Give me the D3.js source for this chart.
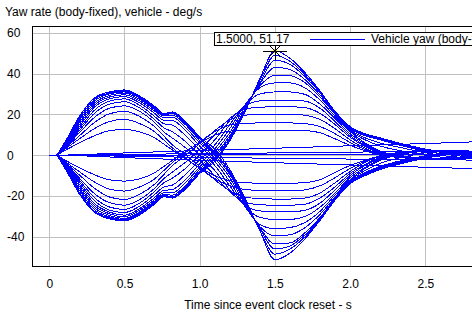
<!DOCTYPE html>
<html>
<head>
<meta charset="utf-8">
<script src="https://cdn.jsdelivr.net/npm/d3@7/dist/d3.min.js"></script>
<style>
	html, body { margin:0; padding:0; background:#fff; }
	svg { display:block; }
	text { font-family:"Liberation Sans", Arial, sans-serif; font-size:12px; fill:#000; }
</style>
</head>
<body>
<svg id="chart" width="472" height="317"></svg>
<script>
// 時間軸 (s)
var time_s = [0, 0.04, 0.1, 0.2, 0.3, 0.4, 0.5, 0.6, 0.7, 0.76, 0.82, 0.9, 1.0, 1.1, 1.2, 1.3, 1.4, 1.5, 1.6, 1.7, 1.8, 1.9, 2.0, 2.1, 2.2, 2.35, 2.5, 2.65, 2.8, 3.0];

// 先向左轉 (第一峰為正)
var yaw_pos_1  = [0, 0, 2.2, 6, 9.5, 12, 12.6, 11.5, 8.5, 5.5, 2.5, -1.5, -6, -10, -12.5, -13.5, -13.7, -13.7, -13.7, -13.5, -12, -8.5, -5, -2.5, -0.3, 1.2, 1.8, 2, 1.8, 1];
var yaw_pos_2  = [0, 0, 2.8, 8, 13, 16.5, 17.6, 15.5, 11.5, 7.5, 3.5, -1, -6.5, -11.5, -15, -16.8, -17.3, -17.5, -17.5, -17, -15, -11, -6.5, -3, -0.3, 1.5, 2, 2.2, 2, 1];
var yaw_pos_3  = [0, 0, 3.2, 9.5, 16, 20.3, 21.5, 19, 14, 9.5, 5, 0.5, -5.5, -12, -17.5, -20.5, -21.3, -21.5, -21.5, -21, -18.5, -13.5, -8, -3.5, -0.5, 1.5, 2.2, 2.3, 2, 1];
var yaw_pos_4  = [0, 0, 3.5, 11, 18.5, 23, 24.2, 21.5, 16, 11.5, 8.3, 4, -2.5, -10, -18, -23, -24.3, -24.5, -24.5, -24, -21, -15.5, -9, -4.5, -1, 1.3, 2.2, 2.4, 2, 1];
var yaw_pos_5  = [0, 0, 3.8, 12, 20.5, 25, 26.2, 23.2, 17.5, 13.5, 11.4, 7, 0, -7.5, -17, -24.5, -27.3, -27.8, -27.8, -27, -23.5, -17, -10, -5, -1.5, 1.2, 2.2, 2.5, 2, 1];
var yaw_pos_6  = [0, 0, 4, 13, 22, 26.5, 27.6, 24.5, 19, 15.5, 14.7, 10, 2.5, -5, -15, -25, -30.5, -31.5, -31.5, -30, -25.5, -18.5, -11, -6, -2, 1, 2.2, 2.5, 2, 1];
var yaw_pos_7  = [0, 0, 4.2, 14, 23.5, 27.6, 28.7, 25.7, 20.5, 17.2, 17, 12.5, 4.5, -3, -13, -25, -34, -36, -35.5, -33, -27.5, -19.5, -12, -6.5, -2.5, 0.5, 2, 2.5, 2, 1];
var yaw_pos_8  = [0, 0, 4.5, 15, 24.5, 28.5, 29.6, 26.6, 21.6, 18.4, 18.5, 14, 6, -1.5, -11, -24, -35, -39.5, -39, -35.5, -29, -20.5, -12.5, -7.5, -4, -1, 1.2, 2, 1.8, 1];
var yaw_pos_9  = [0, 0, 4.8, 16, 25.5, 29.3, 30.4, 27.4, 22.4, 19.2, 19.6, 15.3, 7.2, 0, -9.5, -23, -35.5, -43.5, -43, -38, -30.5, -21, -13, -8.5, -5.5, -2.5, -0.3, 1.2, 1.5, 1];
var yaw_pos_10 = [0, 0, 5, 17, 26.5, 30, 31, 28, 23, 19.8, 20.4, 16, 8, 1, -8.5, -22.5, -36, -46, -44.5, -39, -31, -21.5, -13.5, -9, -6, -3, -0.8, 0.8, 1.2, 1];
var yaw_pos_11 = [0, 0, 5.5, 18, 27.3, 30.5, 31.5, 28.6, 23.5, 20.2, 20.9, 16.5, 8.5, 1.5, -8, -22, -37, -48.5, -46, -40, -31.5, -22, -14, -9.5, -6.5, -3.5, -1.2, 0.5, 1, 1];
var yaw_pos_12 = [0, 0, 6, 19, 28, 31, 32, 29, 24, 20.4, 21.2, 17, 9, 3, -7, -21, -37, -51.2, -48, -41, -32, -22, -14, -10, -7, -4, -1.5, 0.3, 1, 1];

// 先向右轉 (第一峰為負)
var yaw_neg_1  = [0, 0, -2.3, -6.1, -9.6, -12.1, -12.7, -11.6, -8.6, -5.6, -2.5, 1.5, 6, 9.8, 11.8, 12.3, 12.3, 12.3, 12.3, 12.1, 11, 8, 4.8, 2.2, 0, -1.2, -1.7, -1.8, -1.4, -1];
var yaw_neg_2  = [0, 0, -2.9, -8.1, -13.1, -16.6, -17.6, -15.6, -11.6, -7.6, -3.5, 1, 6.5, 11.5, 14.8, 15.6, 15.8, 15.8, 15.8, 15.5, 14, 10.5, 6.2, 2.8, 0.2, -1.3, -1.8, -1.9, -1.5, -1];
var yaw_neg_3  = [0, 0, -3.3, -9.7, -16.2, -20.5, -21.7, -19.2, -14.2, -9.6, -5, -0.4, 5.7, 12, 17.3, 19.6, 20, 20, 20, 19.6, 17.5, 13, 7.5, 3.4, 0.4, -1.2, -1.9, -2, -1.6, -1];
var yaw_neg_4  = [0, 0, -3.6, -11.2, -18.8, -23.3, -24.5, -21.8, -16.2, -11.6, -8.2, -3.8, 2.8, 10, 18, 22.6, 23.5, 23.7, 23.7, 23.3, 20.5, 15, 8.8, 4.2, 0.8, -1, -1.9, -2, -1.6, -1];
var yaw_neg_5  = [0, 0, -3.9, -12.2, -20.8, -25.4, -26.6, -23.5, -17.8, -13.6, -11.2, -6.8, 0.2, 7.5, 17, 24, 26.6, 27, 27, 26.5, 23, 16.5, 9.5, 4.8, 1.2, -0.8, -1.8, -2.1, -1.6, -1];
var yaw_neg_6  = [0, 0, -4.1, -13.2, -22.3, -26.9, -28.1, -25, -19.3, -15.6, -14.6, -9.8, -2.3, 5, 15, 24.5, 30, 31, 31, 29.8, 25, 18, 10.5, 5.5, 1.5, -0.6, -1.8, -2.2, -1.6, -1];
var yaw_neg_7  = [0, 0, -4.3, -14.2, -23.7, -27.9, -29.4, -26.2, -20.8, -17.3, -16.8, -12.3, -4.3, 3, 13, 24.5, 33, 35.4, 35.4, 33, 27, 19, 11.5, 6, 2, -0.3, -1.7, -2.2, -1.6, -1];
var yaw_neg_8  = [0, 0, -4.6, -15.2, -24.7, -28.7, -30.2, -27, -21.8, -18.5, -18.4, -13.8, -5.8, 1.5, 11, 23.5, 34, 39.2, 39, 35.5, 28.5, 20, 12, 7.5, 4.5, 2, 0, -1.2, -1.4, -1];
var yaw_neg_9  = [0, 0, -4.9, -16.2, -25.7, -29.5, -31, -27.8, -22.6, -19.3, -19.6, -15.2, -7, 0, 9.5, 22.5, 35, 43, 42, 37, 29.5, 20.5, 12.5, 8.5, 6, 3.5, 1.2, -0.5, -1.2, -1];
var yaw_neg_10 = [0, 0, -5.2, -17.2, -26.7, -30.3, -31.5, -28.3, -23.2, -19.8, -20.3, -16, -8, -1, 8.5, 22, 35.5, 46.5, 44.5, 38.5, 30.5, 21, 13, 9.5, 7.5, 4.5, 2, 0.3, -0.8, -1];
var yaw_neg_11 = [0, 0, -5.6, -18.2, -27.5, -30.8, -31.8, -28.8, -23.6, -20.1, -20.7, -16.6, -8.6, -2, 7.5, 21.5, 36.5, 49, 46, 39.5, 31, 21.5, 13.5, 10, 8, 5, 2.5, 1, -0.3, -0.5];
var yaw_neg_12 = [0, 0, -6, -19, -28, -31.2, -32.2, -29.3, -24, -20.4, -21, -17, -9, -3, 7, 21, 37.5, 51.17, 47.5, 40.5, 31.5, 21.5, 14, 10.5, 8.5, 5.5, 3, 1.5, 0.5, 0];

// 幾乎沒轉向的幾條 (慢慢漂移)
var drift_time_s = [0, 0.04, 0.5, 1.0, 1.5, 2.0, 2.5, 3.0];
var yaw_drift_1 = [0, 0, 1.1, 2.3, 3.4, 4.6, 5.7, 7.0];
var yaw_drift_2 = [0, 0, 0.3, 0.8, 1.1, 1.5, 1.8, 2.1];
var yaw_drift_3 = [0, 0, 0.0, 0.1, 0.1, 0.2, 0.2, 0.3];
var yaw_drift_4 = [0, 0, -0.5, -1.1, -1.5, -1.9, -2.2, -2.5];
var yaw_drift_5 = [0, 0, -1.2, -2.5, -3.7, -4.8, -5.9, -7.0];

// 軸刻度 (3.0 落在視窗外，不畫)
var x_ticks = [0, 0.5, 1.0, 1.5, 2.0, 2.5];
var x_tick_labels = ["0", "0.5", "1.0", "1.5", "2.0", "2.5"];
var y_ticks = [60, 40, 20, 0, -20, -40];
var y_tick_labels = ["60", "40", "20", "0", "-20", "-40"];

// 游標 (cursor) 讀值
var cursor_point = [1.5, 51.17];
var cursor_label = "1.5000, 51.17";
var legend_label = "Vehicle yaw (body-fixed)";

var chart_title = "Yaw rate (body-fixed), vehicle - deg/s";
var x_title = "Time since event clock reset - s";

var series_list = [
	yaw_pos_1, yaw_pos_2, yaw_pos_3, yaw_pos_4, yaw_pos_5, yaw_pos_6,
	yaw_pos_7, yaw_pos_8, yaw_pos_9, yaw_pos_10, yaw_pos_11, yaw_pos_12,
	yaw_neg_1, yaw_neg_2, yaw_neg_3, yaw_neg_4, yaw_neg_5, yaw_neg_6,
	yaw_neg_7, yaw_neg_8, yaw_neg_9, yaw_neg_10, yaw_neg_11, yaw_neg_12
].map((v)=>v.map((yv,i)=>[time_s[i], yv]));
var drift_list = [yaw_drift_1, yaw_drift_2, yaw_drift_3, yaw_drift_4, yaw_drift_5]
	.map((v)=>v.map((yv,i)=>[drift_time_s[i], yv]));

// 版面
var plot_left = 32, plot_top = 26, plot_bottom = 266, plot_right = 500.5;
var line_blue = "#0000ff";
var grid_gray = "#c0c0c0";

var svg = d3.select("#chart");
var x = d3.scaleLinear().domain([-0.115, 3.0]).range([plot_left, plot_right]);
var y = d3.scaleLinear().domain([-54.3, 63.3]).range([plot_bottom, plot_top]);

svg.append("defs").append("clipPath").attr("id", "plot_clip")
	.append("rect")
	.attr("x", plot_left).attr("y", plot_top)
	.attr("width", plot_right - plot_left).attr("height", plot_bottom - plot_top);

// 格線 + 刻度文字
var x_axis = d3.axisBottom(x)
	.tickValues(x_ticks)
	.tickFormat((d,i)=>x_tick_labels[i])
	.tickSize(-(plot_bottom - plot_top))
	.tickPadding(13);
var gx = svg.append("g").attr("transform", "translate(0," + plot_bottom + ")").call(x_axis);
gx.select(".domain").remove();
gx.selectAll(".tick line").attr("stroke", grid_gray).attr("shape-rendering", "crispEdges");
gx.selectAll(".tick text").attr("font-family", "Liberation Sans, Arial, sans-serif").attr("font-size", 12).attr("fill", "#000");

var y_axis = d3.axisLeft(y)
	.tickValues(y_ticks)
	.tickFormat((d,i)=>y_tick_labels[i])
	.tickSize(-(plot_right - plot_left));
var gy = svg.append("g").attr("transform", "translate(" + plot_left + ",0)").call(y_axis);
gy.select(".domain").remove();
gy.selectAll(".tick line").attr("stroke", grid_gray).attr("shape-rendering", "crispEdges");
gy.selectAll(".tick text")
	.attr("text-anchor", "start")
	.attr("x", 7 - plot_left)
	.attr("font-family", "Liberation Sans, Arial, sans-serif").attr("font-size", 12).attr("fill", "#000");

// 曲線
var line_gen = d3.line()
	.x((d)=>x(d[0]))
	.y((d)=>y(d[1]))
	.curve(d3.curveMonotoneX);

var g_lines = svg.append("g").attr("clip-path", "url(#plot_clip)");
g_lines.selectAll("path.drift")
	.data(drift_list).enter()
	.append("path").attr("class", "drift")
	.attr("d", line_gen)
	.attr("fill", "none").attr("stroke", line_blue).attr("stroke-width", 1)
	.attr("shape-rendering", "crispEdges");
g_lines.selectAll("path.yaw")
	.data(series_list).enter()
	.append("path").attr("class", "yaw")
	.attr("d", line_gen)
	.attr("fill", "none").attr("stroke", line_blue).attr("stroke-width", 1)
	.attr("shape-rendering", "crispEdges");

// 外框 (只有左、上、下)
svg.append("path")
	.attr("d", "M" + (plot_right + 5) + "," + plot_top + "H" + plot_left + "V" + plot_bottom + "H" + (plot_right + 5))
	.attr("fill", "none").attr("stroke", "#000").attr("stroke-width", 1)
	.attr("transform", "translate(0.5,0.5)")
	.attr("shape-rendering", "crispEdges");

// 游標標記
var cx = x(cursor_point[0]), cy = y(cursor_point[1]);
var g_cur = svg.append("g").attr("transform", "translate(" + Math.round(cx) + "," + Math.round(cy) + ")");
g_cur.append("rect").attr("x", -2).attr("y", -2).attr("width", 4).attr("height", 4).attr("fill", "#ffd800");
g_cur.append("path")
	.attr("d", "M-12,0H12M0,-9V9M-6,-6L6,6M-6,6L6,-6")
	.attr("stroke", "#000").attr("stroke-width", 1).attr("fill", "none")
	.attr("shape-rendering", "crispEdges");

// 圖例框 (右側本來就被視窗切掉)
var legend_x = 214, legend_y = 32, legend_h = 13;
var g_leg = svg.append("g");
g_leg.append("rect")
	.attr("x", legend_x + 0.5).attr("y", legend_y + 0.5)
	.attr("width", 300).attr("height", legend_h)
	.attr("fill", "#fff").attr("stroke", "#000").attr("stroke-width", 1);
g_leg.append("text")
	.attr("x", legend_x + 2).attr("y", legend_y + 11)
	.attr("font-family", "Liberation Mono, Courier New, monospace").attr("font-size", 11.5)
	.text(cursor_label);
g_leg.append("line")
	.attr("x1", 310).attr("x2", 365).attr("y1", legend_y + 7.5).attr("y2", legend_y + 7.5)
	.attr("stroke", line_blue).attr("stroke-width", 1);
g_leg.append("text")
	.attr("x", 371).attr("y", legend_y + 11)
	.text(legend_label);

// 標題
svg.append("text").attr("x", 5).attr("y", 16).text(chart_title);
svg.append("text").attr("x", 268).attr("y", 309).attr("text-anchor", "middle").text(x_title);
</script>
</body>
</html>
